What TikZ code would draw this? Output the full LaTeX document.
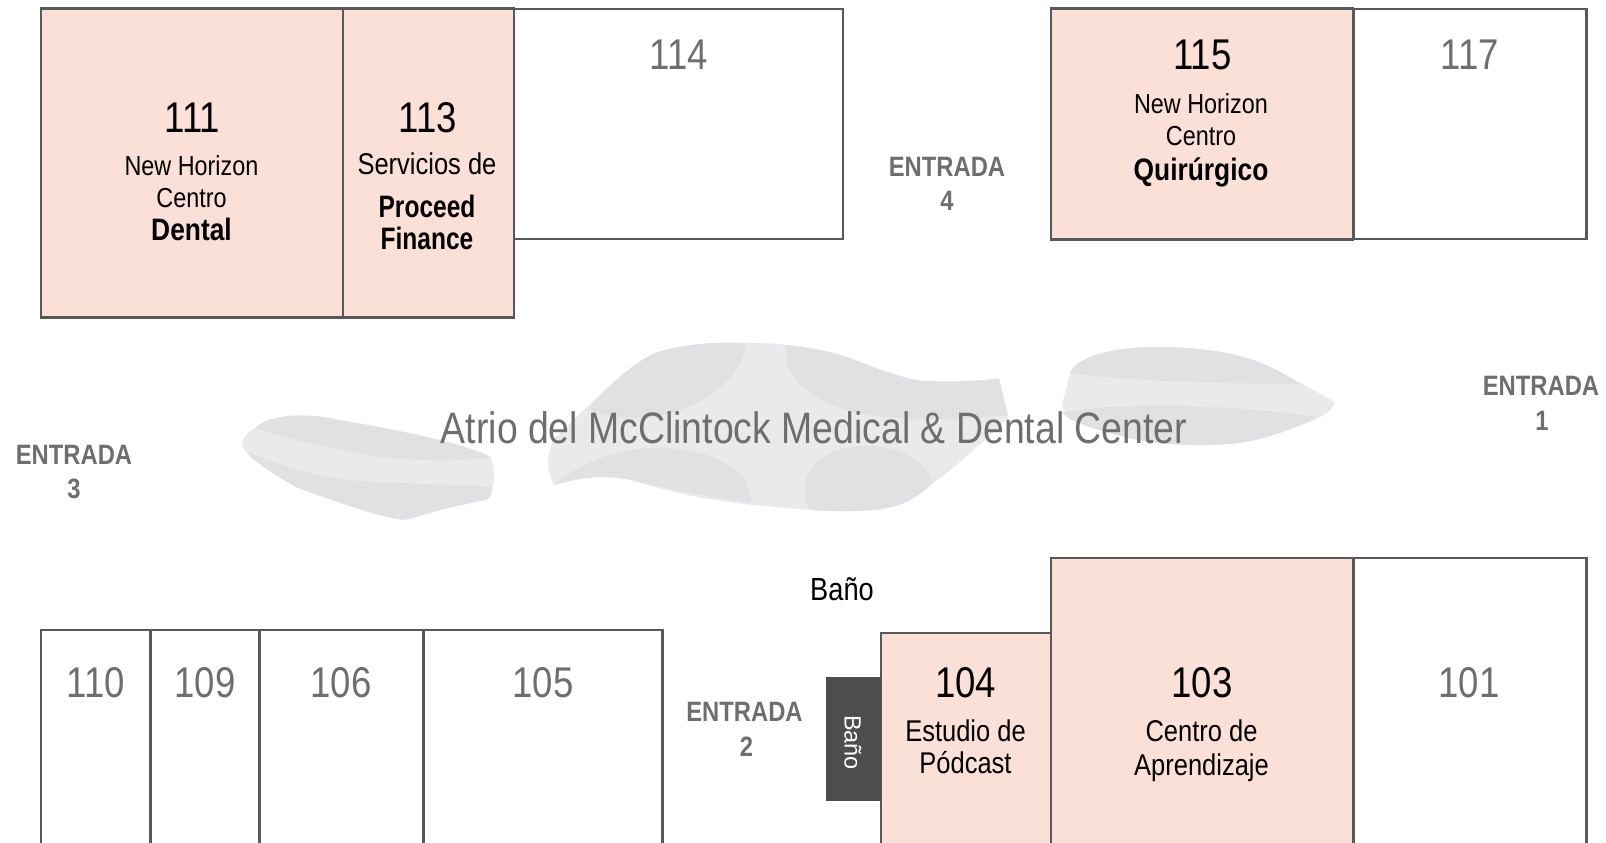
\documentclass[tikz,border=0pt]{standalone}
\usepackage{fontspec}
\setmainfont[FakeStretch=0.85]{Liberation Sans}
\newfontfamily\bathfont{Liberation Sans}
\definecolor{roompink}{RGB}{251,224,216}
\definecolor{wallgray}{RGB}{88,88,90}
\definecolor{bathgray}{RGB}{77,77,79}
\definecolor{labelgray}{RGB}{109,110,112}
\definecolor{atriumlight}{RGB}{233,234,235}
\definecolor{atriumdark}{RGB}{224,225,227}
\tikzset{
  room/.style={rectangle, draw=wallgray, line width=2.4pt, fill=white},
  leased/.style={room, fill=roompink, line width=2.8pt},
  roomno/.style={anchor=base, font=\fontsize{43}{43}\selectfont},
  vacantno/.style={roomno, text=labelgray},
  tenant/.style={anchor=base, font=\fontsize{27.5}{27.5}\selectfont},
  tenantbig/.style={anchor=base, font=\fontsize{30}{30}\selectfont},
  tenantbold/.style={anchor=base, font=\fontsize{31}{31}\selectfont\bfseries},
  entrance/.style={anchor=base, text=labelgray, font=\fontsize{28}{28}\selectfont\bfseries},
}

\begin{document}
\begin{tikzpicture}
[every node/.style={inner sep=0pt}]
\useasboundingbox (0pt, 0pt) rectangle (1606pt, -843pt);
% atrium planters
\fill [atriumlight] (242pt, -443pt) .. controls (245pt, -425pt) and (285pt, -413pt) .. (320pt, -418pt) .. controls (380pt, -425pt) and (460pt, -445pt) .. (491pt, -457pt) .. controls (495pt, -470pt) and (495pt, -480pt) .. (492pt, -490pt) .. controls (491pt, -496pt) and (489pt, -499pt) .. (485pt, -500pt) .. controls (460pt, -505pt) and (430pt, -512pt) .. (413pt, -518pt) .. controls (405pt, -520pt) and (400pt, -520pt) .. (398pt, -519pt) .. controls (380pt, -517pt) and (330pt, -500pt) .. (296pt, -487pt) .. controls (270pt, -470pt) and (245pt, -460pt) .. (242pt, -443pt) -- cycle;
\fill [atriumdark] (255pt, -428pt) .. controls (270pt, -413pt) and (310pt, -413pt) .. (340pt, -420pt) .. controls (400pt, -430pt) and (470pt, -445pt) .. (491pt, -457pt) .. controls (460pt, -462pt) and (420pt, -461pt) .. (380pt, -457pt) .. controls (340pt, -450pt) and (290pt, -440pt) .. (255pt, -428pt) -- cycle;
\fill [atriumdark] (247pt, -452pt) .. controls (280pt, -465pt) and (320pt, -478pt) .. (347pt, -480pt) .. controls (390pt, -484pt) and (450pt, -484pt) .. (492pt, -487pt) -- (492pt, -490pt) .. controls (491pt, -496pt) and (489pt, -499pt) .. (485pt, -500pt) .. controls (460pt, -505pt) and (430pt, -512pt) .. (413pt, -518pt) .. controls (405pt, -520pt) and (400pt, -520pt) .. (398pt, -519pt) .. controls (380pt, -517pt) and (330pt, -500pt) .. (296pt, -487pt) .. controls (280pt, -478pt) and (262pt, -468pt) .. (247pt, -452pt) -- cycle;
\fill [atriumlight] (554pt, -485pt) .. controls (548pt, -475pt) and (545pt, -460pt) .. (553pt, -440pt) .. controls (585pt, -410pt) and (620pt, -370pt) .. (655pt, -353pt) .. controls (690pt, -342pt) and (730pt, -342pt) .. (751pt, -343pt) .. controls (790pt, -343pt) and (830pt, -350pt) .. (850pt, -358pt) .. controls (880pt, -370pt) and (910pt, -381pt) .. (927pt, -381pt) .. controls (955pt, -382pt) and (985pt, -381pt) .. (999pt, -378pt) -- (1008pt, -418pt) .. controls (985pt, -440pt) and (955pt, -468pt) .. (933pt, -483pt) .. controls (920pt, -495pt) and (908pt, -503pt) .. (892pt, -507pt) .. controls (870pt, -512pt) and (840pt, -512pt) .. (810pt, -510pt) .. controls (760pt, -506pt) and (700pt, -502pt) .. (635pt, -481pt) .. controls (610pt, -473pt) and (585pt, -476pt) .. (554pt, -485pt) -- cycle;
\fill [atriumdark] (745pt, -343pt) .. controls (745pt, -375pt) and (700pt, -415pt) .. (640pt, -418pt) .. controls (620pt, -418pt) and (600pt, -415pt) .. (587pt, -410pt) .. controls (610pt, -385pt) and (630pt, -365pt) .. (655pt, -353pt) .. controls (685pt, -343pt) and (720pt, -342pt) .. (745pt, -343pt) -- cycle;
\fill [atriumdark] (786pt, -345pt) .. controls (780pt, -375pt) and (810pt, -405pt) .. (870pt, -415pt) .. controls (915pt, -422pt) and (965pt, -420pt) .. (1008pt, -415pt) -- (999pt, -378pt) .. controls (985pt, -381pt) and (955pt, -382pt) .. (927pt, -381pt) .. controls (910pt, -381pt) and (880pt, -370pt) .. (850pt, -358pt) .. controls (830pt, -352pt) and (805pt, -347pt) .. (786pt, -345pt) -- cycle;
\fill [atriumdark] (554pt, -485pt) .. controls (590pt, -455pt) and (630pt, -448pt) .. (655pt, -448pt) .. controls (715pt, -448pt) and (752pt, -470pt) .. (751pt, -503pt) .. controls (715pt, -497pt) and (680pt, -492pt) .. (635pt, -481pt) .. controls (610pt, -475pt) and (585pt, -476pt) .. (554pt, -485pt) -- cycle;
\fill [atriumdark] (810pt, -510pt) .. controls (795pt, -485pt) and (810pt, -446pt) .. (867pt, -446pt) .. controls (905pt, -446pt) and (928pt, -465pt) .. (933pt, -483pt) .. controls (920pt, -495pt) and (908pt, -503pt) .. (892pt, -507pt) .. controls (870pt, -512pt) and (840pt, -512pt) .. (810pt, -510pt) -- cycle;
\fill [atriumlight] (1070pt, -373pt) .. controls (1075pt, -358pt) and (1110pt, -347pt) .. (1155pt, -347pt) .. controls (1210pt, -347pt) and (1250pt, -355pt) .. (1280pt, -372pt) .. controls (1300pt, -382pt) and (1325pt, -397pt) .. (1335pt, -402pt) .. controls (1333pt, -410pt) and (1325pt, -415pt) .. (1314pt, -420pt) .. controls (1295pt, -428pt) and (1260pt, -442pt) .. (1229pt, -444pt) .. controls (1195pt, -447pt) and (1150pt, -445pt) .. (1110pt, -433pt) .. controls (1085pt, -425pt) and (1065pt, -420pt) .. (1062pt, -405pt) -- cycle;
\fill [atriumdark] (1070pt, -373pt) .. controls (1075pt, -358pt) and (1110pt, -347pt) .. (1155pt, -347pt) .. controls (1210pt, -347pt) and (1250pt, -355pt) .. (1280pt, -372pt) .. controls (1285pt, -375pt) and (1292pt, -379pt) .. (1300pt, -384pt) .. controls (1250pt, -384pt) and (1130pt, -382pt) .. (1070pt, -373pt) -- cycle;
\fill [atriumdark] (1062pt, -412pt) .. controls (1120pt, -403pt) and (1220pt, -403pt) .. (1318pt, -417pt) .. controls (1295pt, -428pt) and (1260pt, -442pt) .. (1229pt, -444pt) .. controls (1195pt, -447pt) and (1150pt, -445pt) .. (1110pt, -433pt) .. controls (1090pt, -427pt) and (1070pt, -423pt) .. (1062pt, -412pt) -- cycle;
\node (title) [anchor=base, text=labelgray, font=\fontsize{44}{44}\selectfont] at (814pt, -443pt) {Atrio del McClintock Medical \& Dental Center};
% vacant rooms
\node (r114) [room, minimum width=330pt, minimum height=230pt] at (678pt, -124pt) {};
\node (r117) [room, minimum width=233pt, minimum height=230pt] at (1470pt, -124pt) {};
\node (r110) [room, minimum width=109pt, minimum height=240pt] at (95.5pt, -750pt) {};
\node (r109) [room, minimum width=109pt, minimum height=240pt] at (205pt, -750pt) {};
\node (r106) [room, minimum width=164pt, minimum height=240pt] at (341.5pt, -750pt) {};
\node (r105) [room, line width=2.8pt, minimum width=239pt, minimum height=241pt] at (543pt, -750.5pt) {};
\node (r101) [room, minimum width=233pt, minimum height=310pt] at (1470pt, -713pt) {};
% leased rooms
\node (r111) [leased, minimum width=302pt, minimum height=309pt] at (192pt, -163pt) {};
\node (r113) [leased, minimum width=171pt, minimum height=309pt] at (428.5pt, -163pt) {};
\node (r115) [leased, minimum width=302pt, minimum height=231pt] at (1202pt, -124pt) {};
\node (r104) [leased, minimum width=170pt, minimum height=240pt] at (966pt, -753pt) {};
\node (r103) [leased, minimum width=302pt, minimum height=310pt] at (1202pt, -713pt) {};
\node (bath) [rectangle, fill=bathgray, minimum width=55pt, minimum height=124pt] at (853pt, -739pt) {};
\node (bathtext) [rotate=-90, text=white, font=\fontsize{23.5}{23.5}\bathfont] at (853pt, -742.5pt) {Baño};
\node (bathtop) [anchor=base, font=\fontsize{32}{32}\selectfont] at (842pt, -600pt) {Baño};
% top row labels
\node (n111) [roomno] at (192.5pt, -132pt) {111};
\node (a111) [tenant] at (191.5pt, -175pt) {New Horizon};
\node (b111) [tenant] at (191.5pt, -207pt) {Centro};
\node (c111) [tenantbold] at (191.5pt, -240pt) {Dental};
\node (n113) [roomno] at (428pt, -132pt) {113};
\node (a113) [tenantbig] at (427pt, -174.5pt) {Servicios de};
\node (b113) [tenantbold, xscale=0.93, transform shape] at (427pt, -217.5pt) {Proceed};
\node (c113) [tenantbold, xscale=0.93, transform shape] at (427pt, -249pt) {Finance};
\node (n114) [vacantno] at (679pt, -70pt) {114};
\node (n115) [roomno] at (1202.5pt, -70pt) {115};
\node (a115) [tenant] at (1201pt, -113pt) {New Horizon};
\node (b115) [tenant] at (1201pt, -145pt) {Centro};
\node (c115) [tenantbold] at (1201pt, -180pt) {Quirúrgico};
\node (n117) [vacantno] at (1470pt, -70pt) {117};
% bottom row labels
\node (n110) [vacantno] at (96pt, -697pt) {110};
\node (n109) [vacantno] at (205pt, -697pt) {109};
\node (n106) [vacantno] at (341pt, -697pt) {106};
\node (n105) [vacantno] at (543pt, -697pt) {105};
\node (n104) [roomno] at (965.5pt, -697pt) {104};
\node (a104) [tenantbig] at (965.5pt, -741pt) {Estudio de};
\node (b104) [tenantbig] at (965.5pt, -773pt) {Pódcast};
\node (n103) [roomno] at (1202pt, -697pt) {103};
\node (a103) [tenantbig] at (1201.5pt, -741pt) {Centro de};
\node (b103) [tenantbig] at (1201.5pt, -775pt) {Aprendizaje};
\node (n101) [vacantno] at (1469pt, -697pt) {101};
% entrances
\node (e4) [entrance] at (947pt, -176pt) {ENTRADA};
\node (e4n) [entrance] at (947pt, -210pt) {4};
\node (e1) [entrance] at (1541pt, -395pt) {ENTRADA};
\node (e1n) [entrance] at (1542pt, -430pt) {1};
\node (e3) [entrance] at (74pt, -464pt) {ENTRADA};
\node (e3n) [entrance] at (74pt, -498pt) {3};
\node (e2) [entrance] at (744.5pt, -721pt) {ENTRADA};
\node (e2n) [entrance] at (746.5pt, -756pt) {2};
\end{tikzpicture}
\end{document}
